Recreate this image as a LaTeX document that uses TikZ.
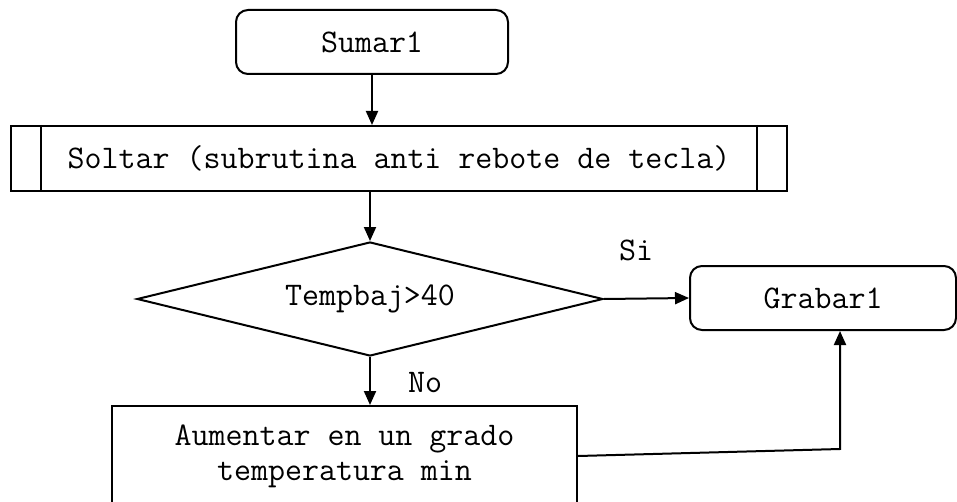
\documentclass[tikz,border=0pt]{standalone}
\usepackage{fontspec}
\usetikzlibrary{shapes.geometric, arrows.meta}

\tikzset{
    caja/.style={draw, line width=1pt, inner sep=0pt, font=\ttfamily\fontsize{16.5}{17.5}\selectfont},
    terminal/.style={caja, rounded corners=6pt},
    decision/.style={caja, diamond, aspect=4},
    flecha/.style={-{Triangle[length=7pt, width=6pt]}, line width=1pt},
    etiqueta/.style={font=\ttfamily\fontsize{16.5}{17.5}\selectfont}
}

\begin{document}
\begin{tikzpicture}[x=0.5pt, y=-0.5pt]
    \useasboundingbox (0,0) rectangle (957,502);

    % bloques
    \node[terminal, minimum width=136pt, minimum height=32pt] (sumar) at (372,42) {Sumar1};
    \node[caja, minimum width=388pt, minimum height=32.5pt] (soltar) at (399,158.5)
        {Soltar (subrutina anti rebote de tecla)};
    \draw[line width=1pt] ([xshift=15.5pt]soltar.north west) -- ([xshift=15.5pt]soltar.south west);
    \draw[line width=1pt] ([xshift=-15.5pt]soltar.north east) -- ([xshift=-15.5pt]soltar.south east);
    \node[decision, minimum width=233pt, minimum height=57pt] (temp) at (370,299) {Tempbaj>40};
    \node[terminal, minimum width=133pt, minimum height=32pt] (grabar) at (823,298) {Grabar1};
    \node[caja, minimum width=232.5pt, minimum height=50pt, align=center] (aumentar) at (344.5,456)
        {Aumentar en un grado\\temperatura min};

    % etiquetas
    \node[etiqueta] (si) at (636,250) {Si};
    \node[etiqueta] (no) at (425,383) {No};

    % conectores
    \draw[flecha] (sumar.south) -- (sumar.south |- soltar.north);
    \draw[flecha] (temp.north |- soltar.south) -- (temp.north);
    \draw[flecha] (temp.east) -- (grabar.west);
    \draw[flecha] (temp.south) -- (temp.south |- aumentar.north);
    \coordinate (codo) at (840,449);
    \draw[flecha] (aumentar.east) -- (codo) -- (grabar.south -| codo);
\end{tikzpicture}
\end{document}
